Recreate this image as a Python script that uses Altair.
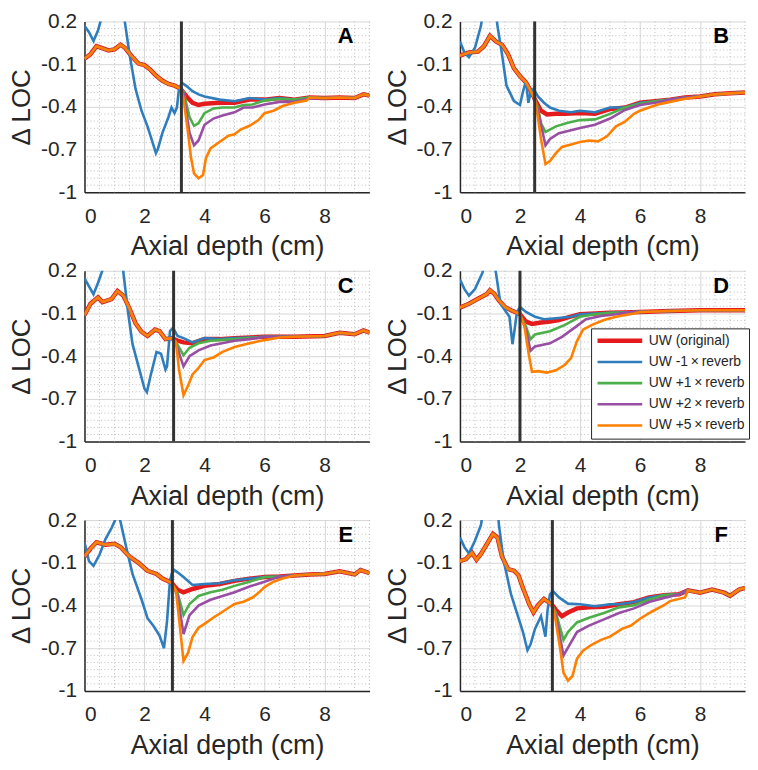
import altair as alt
import pandas as pd

FONT = "Liberation Sans"
SERIES = ["UW (original)", "UW -1\u2009\u00d7\u2009reverb", "UW +1\u2009\u00d7\u2009reverb",
          "UW +2\u2009\u00d7\u2009reverb", "UW +5\u2009\u00d7\u2009reverb"]
COLORS = ["#e41a1c", "#2f7dbd", "#4daf4a", "#984ea3", "#ff7f00"]
WIDTHS = [4.5, 2.6, 2.6, 2.6, 2.6]
PANELS = ["A", "B", "C", "D", "E", "F"]
VLINES = [3.23, 2.49, 2.97, 2.0, 2.93, 3.08]
XTICKS = [0, 2, 4, 6, 8]
YTICKS = [0.2, -0.1, -0.4, -0.7, -1.0]
MINOR_X = [0.5, 1, 1.5, 2.5, 3, 3.5, 4.5, 5, 5.5, 6.5, 7, 7.5, 8.5, 9, 9.5]
MINOR_Y = [-0.95, -0.9, -0.85, -0.8, -0.75, -0.65, -0.6, -0.55, -0.5, -0.45,
           -0.35, -0.3, -0.25, -0.2, -0.15, -0.05, 0.0, 0.05, 0.1, 0.15]

# ---- panel A ----
A_RED = [[0, -0.062], [0.2, -0.03], [0.4, 0.026], [0.5, 0.019], [0.8, -0.003], [1.0, 0.004],
         [1.2, 0.037], [1.35, 0.015], [1.6, -0.051], [1.8, -0.096], [2.0, -0.107], [2.2, -0.14],
         [2.4, -0.184], [2.6, -0.217], [2.8, -0.239], [3.0, -0.25], [3.2, -0.272], [3.4, -0.327],
         [3.6, -0.371], [3.8, -0.387], [4.0, -0.378], [4.5, -0.371], [5.0, -0.371], [5.5, -0.349],
         [6.0, -0.349], [6.5, -0.338], [7.0, -0.349], [7.5, -0.334], [8.0, -0.338], [8.5, -0.334],
         [9.0, -0.338], [9.3, -0.312], [9.5, -0.321]]
A_BLUE = [[0, 0.169], [0.15, 0.125], [0.3, 0.063], [0.45, 0.136], [0.55, 0.213], [0.8, 0.45],
          [1.0, 0.55], [1.2, 0.45], [1.35, 0.19], [1.5, -0.029], [1.7, -0.272], [1.9, -0.427],
          [2.1, -0.537], [2.3, -0.67], [2.38, -0.725], [2.45, -0.692], [2.6, -0.581], [2.8, -0.471],
          [2.9, -0.405], [3.0, -0.444], [3.08, -0.405], [3.15, -0.272], [3.25, -0.232], [3.4, -0.254],
          [3.6, -0.29], [3.8, -0.312], [4.0, -0.327], [4.5, -0.349], [5.0, -0.36], [5.5, -0.338]]
A_GREEN = [[3.3, -0.294], [3.5, -0.471], [3.65, -0.533], [3.8, -0.515], [4.0, -0.444], [4.3, -0.411],
           [4.6, -0.405], [5.0, -0.405], [5.3, -0.387], [5.6, -0.383], [6.0, -0.356], [6.5, -0.343]]
A_PURPLE = [[3.3, -0.305], [3.5, -0.581], [3.65, -0.67], [3.8, -0.636], [4.0, -0.526], [4.3, -0.482],
            [4.6, -0.46], [5.0, -0.438], [5.3, -0.405], [5.6, -0.405], [6.0, -0.383], [6.5, -0.365],
            [7.0, -0.365], [7.5, -0.343]]
A_ORANGE = [[3.3, -0.338], [3.45, -0.581], [3.55, -0.758], [3.65, -0.868], [3.8, -0.901], [3.95, -0.879],
            [4.05, -0.758], [4.2, -0.692], [4.5, -0.647], [4.8, -0.603], [5.0, -0.592], [5.2, -0.559],
            [5.5, -0.533], [5.8, -0.493], [6.0, -0.444], [6.3, -0.427], [6.6, -0.394], [7.0, -0.371],
            [7.4, -0.356]]

# ---- panel B ----
B_RED = [[0, -0.04], [0.3, -0.018], [0.6, -0.012], [0.8, 0.026], [1.0, 0.099], [1.2, 0.059],
         [1.4, 0.037], [1.6, -0.029], [1.8, -0.129], [2.0, -0.184], [2.2, -0.228], [2.4, -0.305],
         [2.5, -0.349], [2.7, -0.427], [2.9, -0.453], [3.2, -0.449], [3.5, -0.449], [4.0, -0.444],
         [4.5, -0.449], [5.0, -0.416], [5.5, -0.405], [6.0, -0.371], [6.5, -0.36], [7.0, -0.349],
         [7.5, -0.334], [8.0, -0.327], [8.5, -0.312], [9.0, -0.305], [9.5, -0.299]]
B_BLUE = [[0, 0.059], [0.15, -0.018], [0.3, -0.051], [0.5, 0.015], [0.7, 0.169], [0.85, 0.4],
          [1.0, 0.5], [1.15, 0.35], [1.25, 0.169], [1.4, -0.029], [1.55, -0.25], [1.8, -0.36],
          [2.0, -0.387], [2.1, -0.294], [2.2, -0.217], [2.28, -0.371], [2.35, -0.305], [2.45, -0.272],
          [2.6, -0.327], [2.8, -0.371], [3.0, -0.405], [3.3, -0.427], [3.7, -0.438], [4.0, -0.427],
          [4.5, -0.438], [5.0, -0.405]]
B_GREEN = [[2.6, -0.405], [2.7, -0.515], [2.85, -0.576], [3.2, -0.537], [3.6, -0.511], [4.0, -0.493],
           [4.5, -0.488], [5.0, -0.449], [5.5, -0.405], [6.0, -0.378]]
B_PURPLE = [[2.6, -0.427], [2.85, -0.67], [3.0, -0.625], [3.3, -0.585], [3.6, -0.57], [4.0, -0.548],
            [4.5, -0.526], [5.0, -0.482], [5.5, -0.422], [6.0, -0.387], [6.5, -0.371]]
B_ORANGE = [[2.55, -0.405], [2.7, -0.625], [2.85, -0.802], [3.0, -0.78], [3.2, -0.725], [3.4, -0.681],
            [3.7, -0.665], [4.0, -0.647], [4.3, -0.636], [4.6, -0.642], [4.9, -0.607], [5.2, -0.537],
            [5.5, -0.504], [5.8, -0.449], [6.0, -0.427], [6.3, -0.405], [6.6, -0.383], [7.0, -0.365],
            [7.5, -0.343]]

# ---- panel C ----
C_RED = [[0, -0.111], [0.2, -0.032], [0.45, 0.013], [0.6, -0.02], [0.9, 0.001], [1.1, 0.058],
         [1.3, 0.024], [1.5, -0.066], [1.7, -0.168], [1.9, -0.228], [2.1, -0.258], [2.35, -0.213],
         [2.5, -0.224], [2.7, -0.28], [2.9, -0.273], [3.1, -0.291], [3.3, -0.303], [3.6, -0.309],
         [4.0, -0.28], [4.5, -0.28], [5.0, -0.273], [6.0, -0.264], [7.0, -0.264], [8.0, -0.258],
         [8.5, -0.235], [9.0, -0.246], [9.3, -0.219], [9.5, -0.235]]
C_BLUE = [[0, 0.148], [0.15, 0.091], [0.3, 0.035], [0.45, 0.114], [0.6, 0.204], [0.8, 0.45],
          [1.0, 0.55], [1.2, 0.4], [1.3, 0.182], [1.45, -0.089], [1.6, -0.314], [1.8, -0.472],
          [2.0, -0.629], [2.08, -0.652], [2.2, -0.539], [2.4, -0.37], [2.55, -0.382], [2.7, -0.494],
          [2.75, -0.472], [2.85, -0.224], [2.95, -0.201], [3.1, -0.258], [3.3, -0.273], [3.6, -0.303],
          [4.0, -0.273]]
C_GREEN = [[3.05, -0.303], [3.3, -0.393], [3.5, -0.341], [3.8, -0.309], [4.2, -0.291], [5.0, -0.28]]
C_PURPLE = [[3.05, -0.314], [3.3, -0.472], [3.5, -0.4], [3.8, -0.359], [4.2, -0.325], [5.0, -0.291],
            [5.5, -0.28]]
C_ORANGE = [[3.05, -0.3], [3.15, -0.494], [3.3, -0.674], [3.45, -0.607], [3.6, -0.528], [3.8, -0.483],
            [4.0, -0.427], [4.3, -0.409], [4.6, -0.37], [5.0, -0.336], [5.5, -0.309], [6.0, -0.287],
            [6.5, -0.269]]

# ---- panel D ----
D_RED = [[0, -0.059], [0.3, -0.032], [0.6, 0.003], [0.9, 0.037], [1.0, 0.064], [1.15, 0.037],
         [1.3, -0.009], [1.5, -0.054], [1.7, -0.077], [1.9, -0.095], [2.0, -0.105], [2.2, -0.157],
         [2.4, -0.173], [2.7, -0.164], [3.0, -0.157], [3.3, -0.146], [3.6, -0.127], [4.0, -0.105],
         [4.5, -0.1], [5.0, -0.095], [5.5, -0.093], [6.0, -0.089], [7.0, -0.082], [8.0, -0.077],
         [9.0, -0.077], [9.5, -0.077]]
D_BLUE = [[0, 0.139], [0.15, 0.071], [0.3, 0.025], [0.5, 0.071], [0.75, 0.185], [0.9, 0.35],
          [1.0, 0.4], [1.1, 0.3], [1.2, 0.185], [1.35, -0.032], [1.5, -0.077], [1.65, -0.123],
          [1.75, -0.316], [1.82, -0.214], [1.9, -0.089], [2.0, -0.054], [2.2, -0.089], [2.5, -0.123],
          [2.8, -0.141], [3.2, -0.134], [3.7, -0.123]]
D_GREEN = [[2.2, -0.191], [2.35, -0.282], [2.5, -0.248], [3.0, -0.225], [3.5, -0.18], [4.0, -0.123],
           [4.5, -0.105]]
D_PURPLE = [[2.2, -0.214], [2.35, -0.362], [2.5, -0.332], [3.0, -0.31], [3.4, -0.264], [3.8, -0.203],
            [4.2, -0.141], [4.7, -0.118], [5.2, -0.105]]
D_ORANGE = [[2.15, -0.191], [2.3, -0.396], [2.4, -0.51], [2.6, -0.505], [2.9, -0.515], [3.2, -0.499],
            [3.5, -0.46], [3.7, -0.414], [3.9, -0.294], [4.1, -0.214], [4.4, -0.18], [4.8, -0.146],
            [5.2, -0.123], [5.8, -0.1]]

# ---- panel E ----
E_RED = [[0, -0.056], [0.2, 0.0], [0.4, 0.044], [0.7, 0.027], [1.0, 0.033], [1.2, 0.011],
         [1.5, -0.056], [1.8, -0.1], [2.1, -0.156], [2.4, -0.178], [2.6, -0.211], [2.9, -0.24],
         [3.1, -0.289], [3.3, -0.307], [3.6, -0.284], [4.0, -0.262], [4.5, -0.249], [5.0, -0.227],
         [5.5, -0.211], [6.0, -0.2], [6.5, -0.196], [7.0, -0.189], [7.5, -0.182], [8.0, -0.178],
         [8.5, -0.16], [9.0, -0.182], [9.2, -0.151], [9.5, -0.173]]
E_BLUE = [[0, 0.044], [0.15, -0.089], [0.3, -0.122], [0.5, -0.044], [0.7, 0.067], [0.9, 0.144],
          [1.0, 0.189], [1.1, 0.25], [1.2, 0.189], [1.4, 0.0], [1.6, -0.178], [1.9, -0.356],
          [2.1, -0.489], [2.3, -0.544], [2.5, -0.611], [2.65, -0.7], [2.75, -0.511], [2.85, -0.222],
          [2.95, -0.144], [3.1, -0.167], [3.3, -0.2], [3.6, -0.256], [4.0, -0.249], [4.5, -0.244],
          [5.0, -0.222]]
E_GREEN = [[3.1, -0.311], [3.3, -0.467], [3.5, -0.389], [3.8, -0.333], [4.2, -0.307], [4.6, -0.289],
           [5.0, -0.262], [5.5, -0.233]]
E_PURPLE = [[3.1, -0.329], [3.3, -0.6], [3.5, -0.467], [3.8, -0.4], [4.2, -0.36], [4.6, -0.333],
            [5.0, -0.307], [5.5, -0.267], [6.0, -0.233]]
E_ORANGE = [[3.05, -0.3], [3.15, -0.489], [3.3, -0.789], [3.45, -0.733], [3.6, -0.622], [3.8, -0.556],
            [4.0, -0.529], [4.3, -0.484], [4.6, -0.444], [5.0, -0.389], [5.3, -0.373], [5.6, -0.344],
            [5.8, -0.311], [6.0, -0.271], [6.3, -0.233], [6.6, -0.211]]

# ---- panel F ----
F_RED = [[0, -0.089], [0.2, -0.074], [0.4, -0.029], [0.55, -0.078], [0.7, -0.038], [0.9, 0.032],
         [1.1, 0.103], [1.25, 0.077], [1.4, -0.056], [1.6, -0.144], [1.8, -0.155], [1.95, -0.188],
         [2.1, -0.277], [2.3, -0.387], [2.45, -0.449], [2.6, -0.398], [2.8, -0.354], [2.95, -0.376],
         [3.05, -0.391], [3.2, -0.431], [3.4, -0.475], [3.6, -0.449], [3.9, -0.42], [4.3, -0.413],
         [4.8, -0.409], [5.3, -0.391], [5.8, -0.376], [6.3, -0.343], [6.8, -0.327], [7.3, -0.321],
         [7.6, -0.294], [8.0, -0.31], [8.4, -0.288], [8.8, -0.31], [9.0, -0.332], [9.3, -0.288],
         [9.5, -0.277]]
F_BLUE = [[0, 0.077], [0.15, 0.01], [0.3, -0.034], [0.5, 0.055], [0.7, 0.165], [0.9, 0.45],
          [1.05, 0.55], [1.2, 0.4], [1.3, 0.165], [1.45, -0.078], [1.7, -0.321], [1.9, -0.453],
          [2.1, -0.586], [2.25, -0.714], [2.35, -0.674], [2.5, -0.564], [2.7, -0.475], [2.85, -0.619],
          [2.92, -0.431], [3.0, -0.321], [3.1, -0.299], [3.3, -0.343], [3.6, -0.387], [4.0, -0.391],
          [4.5, -0.405], [5.0, -0.391]]
F_GREEN = [[3.2, -0.453], [3.45, -0.641], [3.6, -0.586], [3.9, -0.519], [4.3, -0.486], [4.8, -0.453],
           [5.3, -0.413], [5.8, -0.398], [6.3, -0.36]]
F_PURPLE = [[3.2, -0.475], [3.45, -0.751], [3.6, -0.696], [3.9, -0.586], [4.3, -0.541], [4.8, -0.497],
            [5.3, -0.453], [5.8, -0.42], [6.3, -0.376], [6.8, -0.347]]
F_ORANGE = [[3.15, -0.453], [3.35, -0.718], [3.45, -0.873], [3.6, -0.928], [3.75, -0.895], [3.9, -0.773],
            [4.1, -0.718], [4.4, -0.674], [4.7, -0.641], [5.0, -0.619], [5.4, -0.564], [5.7, -0.541],
            [6.0, -0.493], [6.4, -0.442], [6.8, -0.398], [7.0, -0.369], [7.5, -0.343]]

DATA = {
    "A": [A_RED, A_BLUE, A_GREEN, A_PURPLE, A_ORANGE],
    "B": [B_RED, B_BLUE, B_GREEN, B_PURPLE, B_ORANGE],
    "C": [C_RED, C_BLUE, C_GREEN, C_PURPLE, C_ORANGE],
    "D": [D_RED, D_BLUE, D_GREEN, D_PURPLE, D_ORANGE],
    "E": [E_RED, E_BLUE, E_GREEN, E_PURPLE, E_ORANGE],
    "F": [F_RED, F_BLUE, F_GREEN, F_PURPLE, F_ORANGE],
}


def join_with_base(base, part):
    """Series coincide with the original curve outside the span that was read for them."""
    lo, hi = part[0][0], part[-1][0]
    return [p for p in base if p[0] < lo] + part + [p for p in base if p[0] > hi]


W, H = 287, 172
TXT = "#262626"

x_enc = alt.X("x:Q", scale=alt.Scale(domain=[0, 9.5], nice=False, zero=False),
              axis=alt.Axis(values=XTICKS, title="Axial depth (cm)", format="d", ticks=False,
                            labelFontSize=21, labelPadding=13, titleFontSize=27, titlePadding=8,
                            grid=True, gridColor="#d6d6d6", domainColor=TXT, domainWidth=1.5))
y_enc = alt.Y("y:Q", scale=alt.Scale(domain=[-1, 0.2], nice=False, zero=False),
              axis=alt.Axis(values=YTICKS, title="\u0394 LOC", ticks=False,
                            labelExpr="replace(format(datum.value, '.1~f'), '\u2212', '-')",
                            labelFontSize=21, labelPadding=8, titleFontSize=26, titlePadding=6,
                            grid=True, gridColor="#d6d6d6", domainColor=TXT, domainWidth=1.5))

legend_D = alt.Legend(orient="none", legendX=132, legendY=58, title=None, symbolType="stroke",
                      symbolSize=2025, clipHeight=17, rowPadding=4.3, labelFontSize=14, labelFont=FONT,
                      labelColor=TXT, labelOffset=4, strokeColor=TXT, fillColor="white", padding=4,
                      symbolOffset=0)


def panel(idx, key):
    series = DATA[key]
    rows = []
    red = series[0]
    for s_i, pts in enumerate(series):
        full = pts if s_i == 0 else join_with_base(red, pts)
        for x, y in full:
            rows.append({"series": SERIES[s_i], "x": x, "y": y})
    df = pd.DataFrame(rows)
    show = key == "D"
    color = alt.Color("series:N", scale=alt.Scale(domain=SERIES, range=COLORS),
                      legend=legend_D if show else None)
    swidth = alt.StrokeWidth("series:N", scale=alt.Scale(type="ordinal", domain=SERIES, range=WIDTHS),
                             legend=legend_D if show else None)
    layers = [
        alt.Chart(pd.DataFrame({"x": MINOR_X})).mark_rule(color="#bdbdbd", strokeWidth=1,
                                                           strokeDash=[1, 2.5]).encode(x=x_enc),
        alt.Chart(pd.DataFrame({"y": MINOR_Y})).mark_rule(color="#bdbdbd", strokeWidth=1,
                                                           strokeDash=[1, 2.5]).encode(y=y_enc),
    ]
    for s in SERIES:
        layers.append(
            alt.Chart(df).transform_filter(alt.datum.series == s).mark_line(clip=True).encode(
                x=x_enc, y=y_enc, color=color, strokeWidth=swidth)
        )
    layers.append(alt.Chart(pd.DataFrame({"x": [VLINES[idx]]})).mark_rule(
        color="#333333", strokeWidth=3).encode(x=x_enc))
    layers.append(alt.Chart(pd.DataFrame({"t": [key]})).mark_text(
        font=FONT, fontSize=22, fontWeight="bold", color="black", align="center", baseline="middle"
    ).encode(x=alt.value(263), y=alt.value(15), text="t:N"))
    return alt.layer(*layers).properties(width=W, height=H)


charts = [panel(i, k) for i, k in enumerate(PANELS)]
chart = alt.concat(*charts, columns=2, spacing={"row": 79, "column": 91}, bounds="flush").resolve_legend(
    color="independent", strokeWidth="independent"
).properties(
    padding={"top": 0, "left": 0, "right": 0, "bottom": 0}
).configure_view(strokeWidth=0).configure_axis(
    labelFont=FONT, titleFont=FONT, labelColor=TXT, titleColor=TXT, titleFontWeight="normal"
)

chart.save("out.html", embed_options={"renderer": "svg", "actions": False})
